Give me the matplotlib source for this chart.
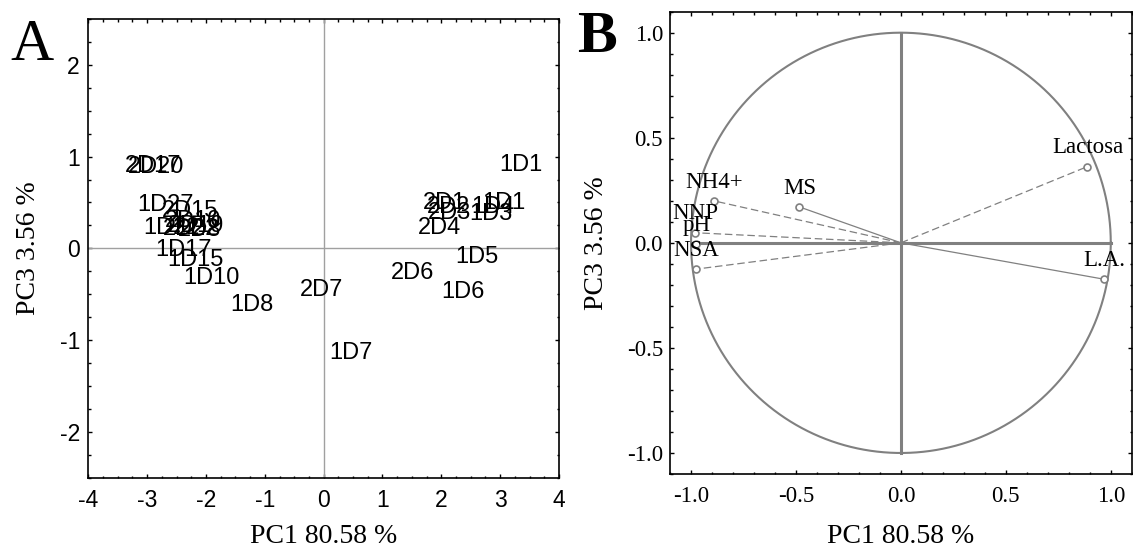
import matplotlib
matplotlib.use("Agg")
from matplotlib import pyplot as plt
from matplotlib.ticker import MultipleLocator
import numpy as np

# panel A: sample scores (label anchor = score)
sample_labels = ["2D17", "2D20", "1D27", "2D15", "2D10", "2D19", "1D22", "2D22", "2D8",
                 "1D17", "1D15", "1D10", "1D8", "2D7", "1D7", "2D6", "1D6", "1D5", "2D4",
                 "2D1", "2D2", "2D3", "1D4", "1D3", "1D1", "1D1"]
pc1_scores = [-3.38, -3.33, -3.17, -2.75, -2.70, -2.65, -3.07, -2.73, -2.48,
              -2.87, -2.65, -2.39, -1.59, -0.40, 0.10, 1.14, 2.00, 2.24, 1.60,
              1.69, 1.76, 1.77, 2.50, 2.48, 2.70, 2.99]
pc3_scores = [0.90, 0.89, 0.47, 0.41, 0.30, 0.24, 0.22, 0.21, 0.20,
              -0.02, -0.13, -0.32, -0.62, -0.45, -1.14, -0.27, -0.48, -0.09, 0.22,
              0.49, 0.45, 0.39, 0.45, 0.38, 0.49, 0.91]

# panel B: variable loadings
var_labels = ["Lactosa", "L.A.", "MS", "NH4+", "NNP", "pH", "NSA"]
var_pc1 = [0.889, 0.967, -0.484, -0.892, -0.979, -0.975, -0.975]
var_pc3 = [0.363, -0.173, 0.171, 0.200, 0.048, -0.007, -0.125]
var_solid = [False, True, True, False, False, False, False]

xlabel = "PC1 80.58 %"
ylabel = "PC3 3.56 %"

serif = "Liberation Serif"
sans = "Liberation Sans"
grey = "#808080"
plt.rcParams["axes.unicode_minus"] = False

fig = plt.figure(figsize=(11.33, 5.56), dpi=100)
axA = fig.add_axes([0.0779, 0.1408, 0.4155, 0.825])
axB = fig.add_axes([0.5914, 0.1475, 0.4075, 0.8315])


def style_axis(ax, fontfamily, size):
    for s in ax.spines.values():
        s.set_linewidth(1.2)
    ax.tick_params(which="both", direction="in", top=True, right=True, width=1)
    ax.tick_params(which="major", length=3)
    ax.tick_params(which="minor", length=1.8)
    for lab in ax.get_xticklabels() + ax.get_yticklabels():
        lab.set_fontfamily(fontfamily)
        lab.set_fontsize(size)


# ---- panel A ----
axA.set_xlim(-4, 4)
axA.set_ylim(-2.5, 2.5)
axA.xaxis.set_major_locator(MultipleLocator(1))
axA.xaxis.set_minor_locator(MultipleLocator(0.25))
axA.yaxis.set_major_locator(MultipleLocator(1))
axA.yaxis.set_minor_locator(MultipleLocator(0.25))
axA.axhline(0, color="#a0a0a0", lw=1)
axA.axvline(0, color="#a0a0a0", lw=1)
for lab, x, y in zip(sample_labels, pc1_scores, pc3_scores):
    axA.text(x, y, lab, ha="left", va="center", fontsize=17, family=sans)
style_axis(axA, sans, 16.5)
axA.tick_params(axis="x", pad=8)
axA.tick_params(axis="y", pad=6)
axA.set_xlabel(xlabel, family=serif, fontsize=20)
axA.set_ylabel(ylabel, family=serif, fontsize=20)
axA.xaxis.set_label_coords(0.5, -0.129)
axA.xaxis.label.set_va("center")
axA.yaxis.set_label_coords(-0.126, 0.5)
axA.yaxis.label.set_va("center")

# ---- panel B ----
axB.set_xlim(-1.1, 1.1)
axB.set_ylim(-1.1, 1.1)
axB.xaxis.set_major_locator(MultipleLocator(0.5))
axB.xaxis.set_minor_locator(MultipleLocator(0.1))
axB.yaxis.set_major_locator(MultipleLocator(0.5))
axB.yaxis.set_minor_locator(MultipleLocator(0.1))
t = np.linspace(0, 2 * np.pi, 400)
axB.plot(np.cos(t), np.sin(t), color=grey, lw=1.5)
axB.plot([-1, 1], [0, 0], color=grey, lw=2.2)
axB.plot([0, 0], [-1, 1], color=grey, lw=2.2)
for lab, x, y, solid in zip(var_labels, var_pc1, var_pc3, var_solid):
    ls = "-" if solid else (0, (6, 3))
    axB.plot([0, x], [0, y], color=grey, lw=0.9, ls=ls)
    axB.plot(x, y, "o", ms=5, mfc="white", mec=grey, mew=1.2)
    axB.annotate(lab, (x, y), xytext=(0, 13.5), textcoords="offset points",
                 ha="center", va="center", fontsize=16.5, family=serif)
style_axis(axB, serif, 16.5)
axB.tick_params(axis="x", pad=9)
axB.tick_params(axis="y", pad=5)
axB.set_xlabel(xlabel, family=serif, fontsize=20)
axB.set_ylabel(ylabel, family=serif, fontsize=20)
axB.xaxis.set_label_coords(0.5, -0.136)
axB.xaxis.label.set_va("center")
axB.yaxis.set_label_coords(-0.159, 0.5)
axB.yaxis.label.set_va("center")

# panel letters
fig.text(10 / 1133, 1 - 60 / 556, "A", family=serif, fontsize=43, va="baseline", ha="left")
fig.text(577 / 1133, 1 - 52 / 556, "B", family=serif, fontsize=43, weight="bold",
         va="baseline", ha="left")

fig.savefig("out.png", dpi=100)
